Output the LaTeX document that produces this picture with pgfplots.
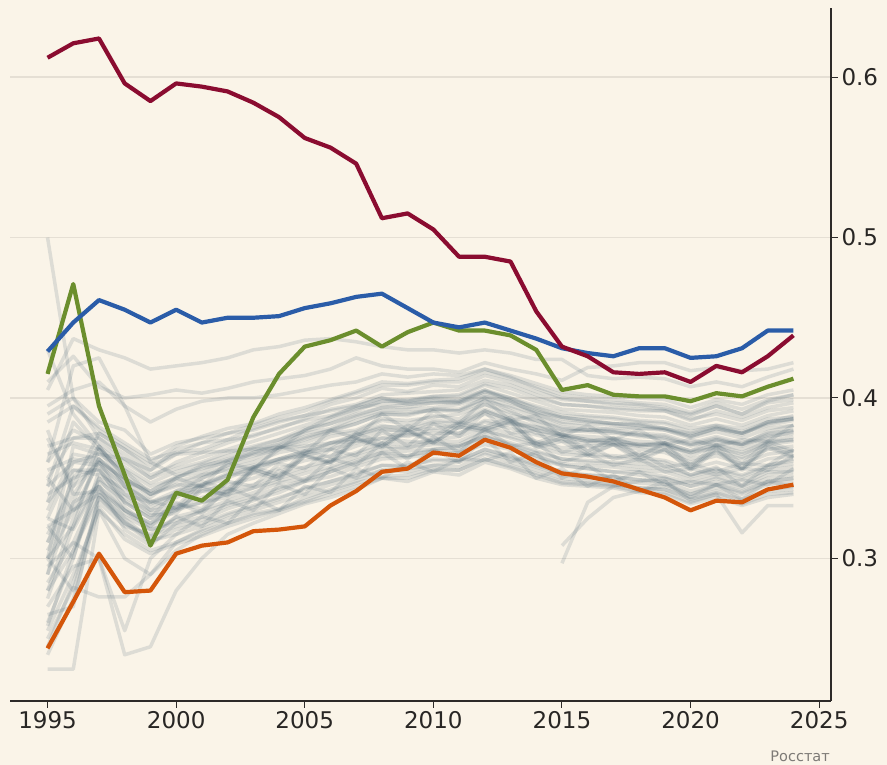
\documentclass[border=0pt]{standalone}
\usepackage{pgfplots}
\pgfplotsset{compat=1.18}
\usepackage{pgfplotstable}
\usepackage{fontspec}
\setmainfont{DejaVu Sans}
\definecolor{bgc}{RGB}{250,244,232}
\definecolor{gridc}{RGB}{229,223,212}
\definecolor{axc}{RGB}{45,42,40}
\definecolor{txtc}{RGB}{40,38,36}
\definecolor{srcc}{RGB}{125,122,118}
\definecolor{greyc}{RGB}{72,98,114}
\definecolor{redc}{RGB}{138,12,48}
\definecolor{bluec}{RGB}{42,92,168}
\definecolor{greenc}{RGB}{107,142,45}
\definecolor{orangec}{RGB}{212,86,10}

% Gini coefficients of regions (in thousandths), one row per region
\pgfplotstableread{
name 1995 1996 1997 1998 1999 2000 2001 2002 2003 2004 2005 2006 2007 2008 2009 2010 2011 2012 2013 2014 2015 2016 2017 2018 2019 2020 2021 2022 2023 2024
r1 370 375 378 368 358 365 372 374 381 386 389 396 400 406 404 408 407 414 410 404 399 398 397 396 394 389 395 390 397 399
r2 280 305 338 323 311 315 326 322 338 330 345 341 356 350 360 354 362 361 366 350 356 345 352 342 348 338 346 337 348 345
r3 310 340 362 345 330 338 346 352 353 361 366 368 377 381 378 384 381 392 386 378 376 373 375 370 372 364 370 363 372 374
r4 345 360 365 355 345 350 358 361 368 371 378 381 388 392 393 394 396 401 398 391 388 386 384 384 381 377 381 378 383 386
r5 300 320 350 330 322 335 328 344 338 355 348 362 358 372 362 376 366 381 370 372 360 365 358 362 354 356 352 356 355 364
r6 260 300 355 335 325 342 350 356 360 366 369 376 379 386 384 389 387 396 389 386 380 379 378 377 374 371 373 371 375 379
r7 290 335 345 318 308 322 326 333 337 341 348 351 357 362 363 365 366 371 368 362 358 356 354 354 351 347 351 346 354 354
r8 320 330 360 340 335 340 350 358 366 372 380 386 392 398 399 401 402 409 406 400 396 395 393 392 392 386 392 388 394 397
r9 335 355 355 340 328 330 342 340 356 350 364 360 375 370 380 373 384 380 386 370 375 365 371 363 368 356 368 356 370 364
r10 385 395 380 370 360 370 376 381 384 390 394 399 404 410 409 411 412 418 414 409 404 402 401 400 399 394 399 396 402 405
r11 255 290 330 315 305 310 317 322 328 331 336 342 347 351 352 356 355 362 358 353 348 347 346 344 343 337 341 336 342 343
r12 340 350 370 350 340 345 352 358 362 369 374 379 384 390 389 393 392 400 392 384 377 374 371 368 366 360 364 359 365 367
r13 315 345 360 335 325 332 338 342 346 352 357 361 366 372 371 374 376 382 378 373 369 370 371 371 372 367 374 371 379 383
r14 300 370 365 362 350 356 360 366 370 374 381 384 390 394 396 397 398 404 400 395 391 389 388 386 385 381 383 381 387 388
r15 350 330 340 325 312 326 320 336 330 346 340 356 350 366 356 368 360 375 360 366 350 358 348 354 346 348 346 349 346 356
r16 275 320 368 345 335 342 346 353 357 362 367 372 377 382 382 386 385 393 387 382 377 376 375 373 372 367 371 368 373 376
r17 360 380 372 360 350 360 366 372 377 381 387 393 396 402 403 404 405 411 408 402 396 395 394 393 392 387 390 386 392 394
r18 245 285 335 320 315 326 330 336 341 347 350 356 361 366 367 368 370 376 371 366 362 360 359 357 356 351 355 351 357 359
r19 330 365 362 348 342 351 354 361 365 369 375 380 384 390 390 393 393 400 395 390 385 384 383 381 380 375 379 375 381 383
r20 320 300 350 338 330 332 348 343 357 352 367 363 378 372 383 376 385 382 388 372 378 367 375 364 372 358 371 359 373 367
r21 295 310 345 328 320 330 335 340 344 350 355 360 365 370 369 373 373 380 375 370 365 364 363 361 360 352 357 345 358 362
r22 390 400 375 365 352 358 363 368 373 378 383 388 393 398 398 401 401 408 403 398 393 392 391 389 388 383 387 383 389 392
r23 265 270 340 322 310 318 322 328 333 338 343 348 353 358 358 361 361 368 363 358 353 352 351 349 348 342 346 341 348 350
r24 355 362 360 350 338 350 345 360 355 370 365 380 375 390 380 392 384 399 386 389 376 383 374 380 371 374 370 374 373 383
r25 240 275 332 312 303 309 314 320 325 330 335 340 345 350 350 355 355 362 357 352 347 346 345 342 341 335 340 334 340 341
r26 375 345 378 368 355 368 372 378 383 388 392 398 403 408 408 410 410 416 412 407 402 400 399 397 396 391 397 393 399 402
r27 290 355 352 343 332 340 345 350 357 360 365 372 375 380 380 381 383 390 385 380 377 374 373 371 370 366 369 365 371 373
r28 380 340 342 326 318 324 329 334 339 344 349 354 359 364 364 367 367 374 369 364 359 358 357 355 354 349 353 349 355 357
r29 305 335 370 357 347 354 359 364 369 374 379 384 389 394 394 397 397 404 399 394 389 388 387 385 384 379 383 379 385 387
r30 325 318 348 336 327 328 344 339 354 349 364 359 374 369 379 372 382 379 384 369 373 364 371 361 368 355 367 355 369 363
r31 300 330 345 330 318 322 330 342 356 368 380 388 395 400 398 400 399 405 398 390 384 382 380 378 377 372 376 372 378 380
r32 350 375 375 362 355 365 366 367 368 369 370 372 373 375 373 372 370 376 370 364 358 356 354 352 350 345 348 344 350 352
r33 335 385 368 355 340 348 352 355 358 362 364 368 372 378 376 380 378 386 384 382 379 380 381 381 381 376 381 378 385 389
r34 310 350 356 332 320 334 331 348 345 359 356 368 364 380 370 384 376 391 378 380 366 371 362 366 357 359 354 359 358 368
r35 280 325 362 348 334 340 342 346 350 356 361 364 370 375 377 378 378 385 381 377 373 372 372 370 368 362 366 362 368 370
r36 345 395 382 372 362 366 368 374 376 382 386 389 394 396 397 398 397 402 397 392 387 385 384 383 380 376 381 377 385 387
r37 300 280 338 322 314 320 324 331 336 343 348 354 360 366 364 368 369 377 372 367 362 361 360 359 358 352 356 352 358 361
r38 365 372 368 352 342 350 357 362 366 370 376 380 386 391 391 392 392 398 394 388 382 380 379 376 375 370 374 370 376 378
r39 325 360 358 345 336 331 345 341 355 351 365 360 375 370 380 372 382 381 385 371 375 367 373 364 371 357 369 356 371 366
r40 258 305 342 330 322 331 335 338 344 348 353 357 363 368 369 371 371 379 376 372 367 365 364 363 361 356 360 356 362 364
r41 405 437 430 425 418 420 422 425 430 432 436 437 435 432 430 430 428 430 428 424 424 414 412 413 412 407 410 407 413 418
r42 410 426 407 400 402 405 403 406 410 412 414 418 425 420 418 418 416 422 418 415 411 419 420 422 422 417 419 417 418 422
r43 395 405 410 395 385 393 398 400 400 402 405 408 410 415 413 415 414 418 413 406 400 398 396 395 393 390 395 390 398 402
r44 500 400 385 380 365 372 375 378 380 385 389 392 395 400 396 399 398 405 400 393 388 386 384 383 381 378 382 378 384 387
r45 231 231 330 300 290 310 318 325 330 335 340 346 350 355 354 358 357 365 360 355 350 348 346 344 343 338 342 337 343 345
r46 270 295 300 240 245 280 300 315 322 328 334 338 343 350 348 354 352 360 356 350 346 345 344 341 340 334 338 333 338 340
r47 250 282 276 276 290 305 315 322 327 330 338 343 348 355 356 358 360 366 362 357 352 350 349 347 346 340 344 340 346 348
r48 285 310 300 255 300 315 320 327 332 337 344 348 352 358 357 362 361 368 364 359 354 352 351 349 348 336 340 316 333 333
r49 nan nan nan nan nan nan nan nan nan nan nan nan nan nan nan nan nan nan nan nan 297 335 345 348 350 345 350 345 352 355
r50 nan nan nan nan nan nan nan nan nan nan nan nan nan nan nan nan nan nan nan nan 308 325 338 342 345 340 346 342 348 350
r51 360 420 425 395 360 352 356 360 364 368 372 378 380 387 386 388 390 396 391 386 381 380 379 377 376 371 375 371 377 380
r52 430 390 370 350 340 346 345 352 356 362 367 370 378 383 380 385 384 392 386 380 376 373 374 371 371 366 371 366 373 374
}\greyraw
\pgfplotstabletranspose[colnames from=name]{\grey}{\greyraw}

\begin{document}
\begin{tikzpicture}
\fill[bgc] (-10pt,-64pt) rectangle (877pt,701pt);
\begin{axis}[
  scale only axis, width=821pt, height=693pt,
  xmin=1993.54, xmax=2025.46, ymin=211.2, ymax=643,
  axis x line*=bottom, axis y line*=right,
  axis line style={draw=axc, line width=2.2pt},
  xtick={1995,2000,...,2025},
  xticklabels={1995,2000,2005,2010,2015,2020,2025},
  ytick={300,400,500,600},
  yticklabels={0.3,0.4,0.5,0.6},
  tick align=outside, major tick length=7pt,
  tick style={draw=axc, line width=1pt},
  ymajorgrids, major grid style={draw=gridc, line width=1.5pt},
  ticklabel style={font=\fontsize{23}{27}\selectfont, text=txtc},
  greyl/.style={draw=greyc, draw opacity=0.16, line width=3.5pt, line join=round, forget plot},
  hl/.style={line width=4.2pt, line join=round},
]
\pgfplotsinvokeforeach{1,...,52}{
  \addplot[greyl] table[x=colnames, y=r#1] {\grey};
}
\addplot[hl, orangec] coordinates {(1995,244)(1996,273)(1997,303)(1998,279)(1999,280)(2000,303)(2001,308)(2002,310)(2003,317)(2004,318)(2005,320)(2006,333)(2007,342)(2008,354)(2009,356)(2010,366)(2011,364)(2012,374)(2013,369)(2014,360)(2015,353)(2016,351)(2017,348)(2018,343)(2019,338)(2020,330)(2021,336)(2022,335)(2023,343)(2024,346)};
\addplot[hl, greenc] coordinates {(1995,415)(1996,471)(1997,395)(1998,352)(1999,308)(2000,341)(2001,336)(2002,349)(2003,388)(2004,415)(2005,432)(2006,436)(2007,442)(2008,432)(2009,441)(2010,447)(2011,442)(2012,442)(2013,439)(2014,430)(2015,405)(2016,408)(2017,402)(2018,401)(2019,401)(2020,398)(2021,403)(2022,401)(2023,407)(2024,412)};
\addplot[hl, bluec] coordinates {(1995,429)(1996,447)(1997,461)(1998,455)(1999,447)(2000,455)(2001,447)(2002,450)(2003,450)(2004,451)(2005,456)(2006,459)(2007,463)(2008,465)(2009,456)(2010,447)(2011,444)(2012,447)(2013,442)(2014,437)(2015,431)(2016,428)(2017,426)(2018,431)(2019,431)(2020,425)(2021,426)(2022,431)(2023,442)(2024,442)};
\addplot[hl, redc] coordinates {(1995,612)(1996,621)(1997,624)(1998,596)(1999,585)(2000,596)(2001,594)(2002,591)(2003,584)(2004,575)(2005,562)(2006,556)(2007,546)(2008,512)(2009,515)(2010,505)(2011,488)(2012,488)(2013,485)(2014,454)(2015,432)(2016,426)(2017,416)(2018,415)(2019,416)(2020,410)(2021,420)(2022,416)(2023,426)(2024,439)};
\end{axis}
\node[anchor=base east, inner sep=0pt, font=\fontsize{14.5}{17}\selectfont, text=srcc] at (820pt,-61pt) {Росстат};
\pgfresetboundingbox
\path (-10pt,-64pt) rectangle (877pt,701pt);
\end{tikzpicture}
\end{document}
